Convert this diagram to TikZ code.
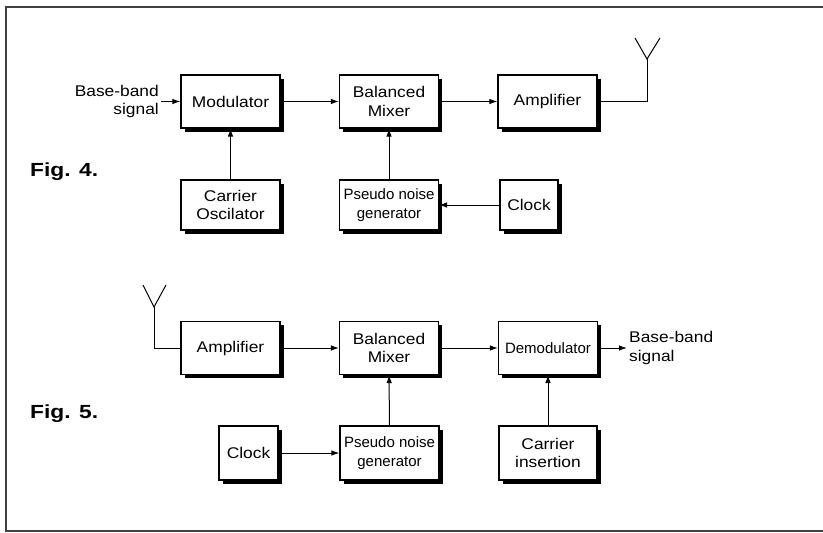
\documentclass[tikz,border=0pt]{standalone}
\usepackage{fontspec}
\setmainfont{Liberation Sans}[FakeStretch=1.12]
\newfontfamily\narrowfont{Liberation Sans}
\newfontfamily\figfont{Liberation Sans}[FakeStretch=1.2]
\usetikzlibrary{arrows.meta}
\begin{document}
\begin{tikzpicture}[x=1pt,y=-1pt,
  blk/.style={draw, line width=1.1pt, fill=white, align=center, inner sep=1pt,
    font=\fontsize{15.5}{18.5}\selectfont,
    preaction={fill=black, transform canvas={shift={(3.5pt,-3.5pt)}}}},
  wide/.style={minimum width=99pt, minimum height=53pt},
  low/.style={minimum width=99pt, minimum height=50pt},
  lbl/.style={inner sep=2pt, font=\fontsize{15.5}{18.5}\selectfont},
  figlbl/.style={font=\figfont\bfseries\fontsize{19}{22}\selectfont, anchor=west, inner sep=0pt},
  arr/.style={line width=1pt, -{Latex[length=8pt,width=5.5pt]}},
  wire/.style={line width=1pt},
  frame/.style={line width=1.3pt, black!75}]
\useasboundingbox (0,0) rectangle (823,533);
\draw[frame] (823,7) -- (6,7) -- (6,531) -- (823,531);

% ---------- Fig. 4 ----------
\node[figlbl] (f4) at (30,172) {Fig. 4.};
\node[blk, wide] (mod) at (230.5,101.5) {Modulator};
\node[blk, wide] (mix1) at (389,101.5) {Balanced\\Mixer};
\node[blk, wide] (amp1) at (547.5,101.5) {Amplifier};
\node[blk, low] (osc) at (230.5,205) {Carrier\\Oscilator};
\node[blk, low, font=\narrowfont\fontsize{15}{18.5}\selectfont] (pn1) at (389,205) {Pseudo noise\\generator};
\node[blk, minimum width=58pt, minimum height=50pt] (clk1) at (529,205) {Clock};
\node[lbl, align=right, anchor=east] (bb1) at (161,101.5) {Base-band\\signal};

\draw[arr] (bb1.east) -- (mod.west);
\draw[arr] (mod) -- (mix1);
\draw[arr] (mix1) -- (amp1);
\draw[arr] (osc) -- (mod);
\draw[arr] (pn1) -- (mix1);
\draw[arr] (clk1) -- (pn1);

\coordinate (a1s) at (647,59);
\coordinate (a1l) at (635,38);
\coordinate (a1r) at (660,38);
\draw[wire] (amp1.east) -| (a1s);
\draw[wire] (a1l) -- (a1s) -- (a1r);

% ---------- Fig. 5 ----------
\node[figlbl] (f5) at (30,414) {Fig. 5.};
\node[blk, wide] (amp2) at (230.5,348) {Amplifier};
\node[blk, wide] (mix2) at (389,348) {Balanced\\Mixer};
\node[blk, wide, font=\narrowfont\fontsize{15}{18.5}\selectfont] (dem) at (548,348) {Demodulator};
\node[blk, minimum width=59pt, minimum height=54pt] (clk2) at (248.5,453) {Clock};
\node[blk, minimum width=99pt, minimum height=54pt, font=\narrowfont\fontsize{15}{18.5}\selectfont] (pn2) at (389.5,453) {Pseudo noise\\generator};
\node[blk, minimum width=98pt, minimum height=54pt] (ins) at (548,453) {Carrier\\insertion};
\node[lbl, align=left, anchor=west] (bb2) at (627,348) {Base-band\\signal};

\draw[arr] (amp2) -- (mix2);
\draw[arr] (mix2) -- (dem);
\draw[arr] (dem.east) -- (bb2.west);
\draw[arr] (clk2) -- (pn2);
\draw[arr] (pn2) -- (mix2);
\draw[arr] (ins) -- (dem);

\coordinate (a2s) at (154,307);
\coordinate (a2l) at (143,285);
\coordinate (a2r) at (166,285);
\draw[wire] (amp2.west) -| (a2s);
\draw[wire] (a2l) -- (a2s) -- (a2r);
\end{tikzpicture}
\end{document}
